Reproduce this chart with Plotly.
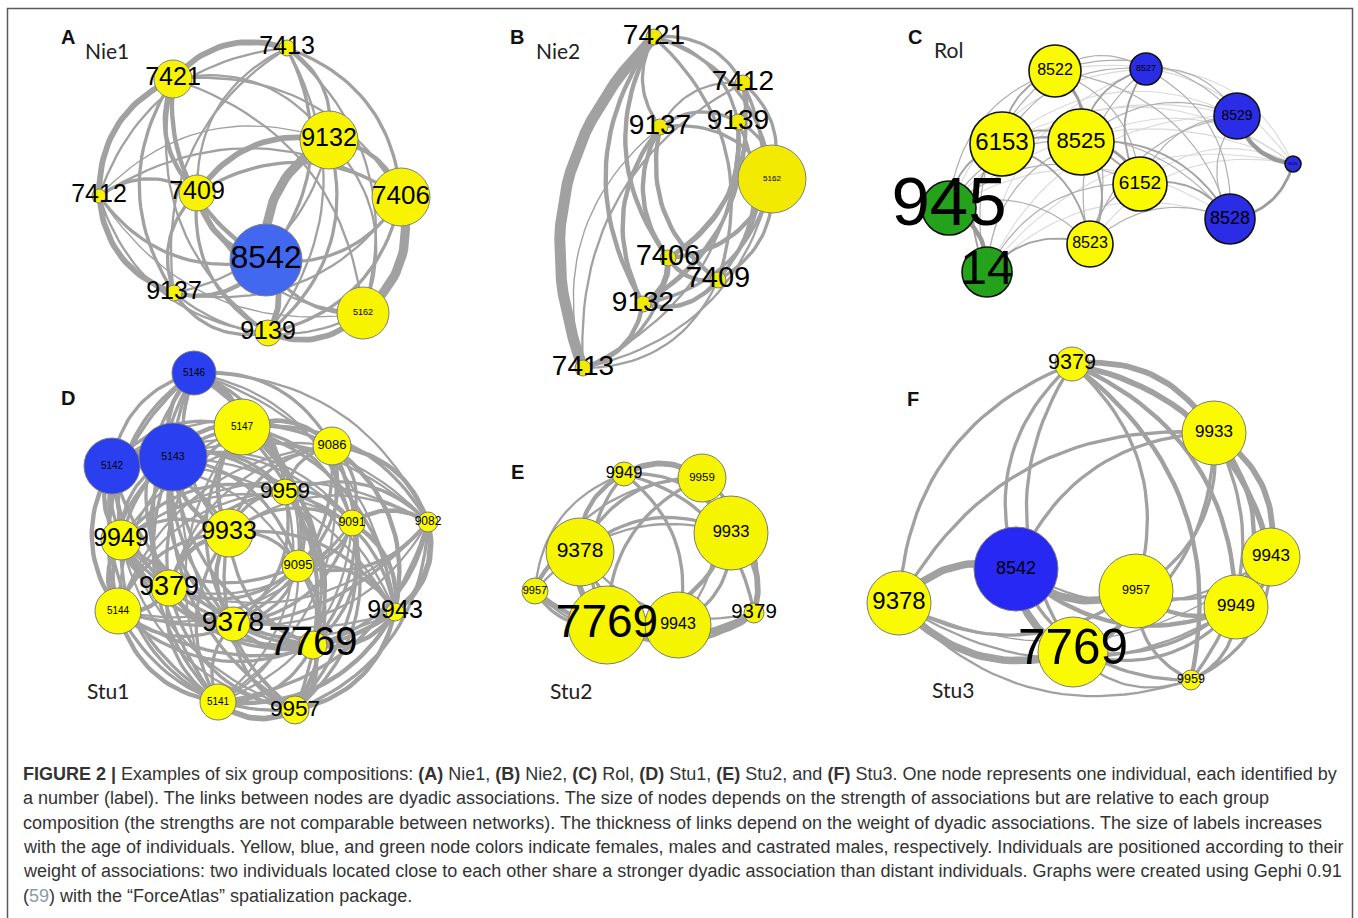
import numpy as np
import plotly.graph_objects as go

W, H = 1358, 918

# ---------------- Panel A : Nie1 ----------------
A_labels = ["7413", "7421", "9132", "7406", "7412", "7409", "8542", "9137", "5162", "9139"]
A_x = [287, 173, 329, 401, 99, 197, 266, 174, 363, 268]
A_y = [48, 79, 140, 197, 196, 193, 260, 293, 313, 333]
A_r = [8, 19, 29, 29, 7, 18, 36, 8, 26, 13]
A_sex = ["F", "F", "F", "F", "F", "F", "M", "F", "F", "F"]
A_font = [25, 25, 25, 26, 25, 25, 32, 25, 9, 25]
A_edges = [(0, 1, 5), (0, 2, 3), (0, 3, 3), (0, 4, 2), (0, 5, 2), (0, 6, 3), (0, 7, 2), (0, 8, 2), (0, 9, 2),
           (1, 2, 2), (1, 3, 2), (1, 4, 5), (1, 5, 4), (1, 6, 4), (1, 7, 3), (1, 8, 2), (1, 9, 2),
           (2, 3, 4), (2, 4, 1), (2, 5, 5), (2, 6, 7), (2, 7, 2), (2, 8, 2), (2, 9, 3),
           (3, 4, 2), (3, 5, 3), (3, 6, 3), (3, 7, 2), (3, 8, 7), (3, 9, 3),
           (4, 5, 3), (4, 6, 3), (4, 7, 5), (4, 8, 1), (4, 9, 2),
           (5, 6, 5), (5, 7, 3), (5, 8, 2), (5, 9, 3),
           (6, 7, 4), (6, 8, 3), (6, 9, 5), (7, 8, 2), (7, 9, 3), (8, 9, 5)]
A_flip = [(2, 6)]

# ---------------- Panel B : Nie2 ----------------
B_labels = ["7421", "7412", "9137", "9139", "5162", "7406", "7409", "9132", "7413"]
B_x = [654, 743, 660, 738, 772, 668, 718, 643, 583]
B_y = [37, 83, 127, 122, 179, 258, 280, 304, 368]
B_r = [8, 8, 8, 8, 34, 8, 8, 8, 8]
B_sex = ["F"] * 9
B_font = [28, 28, 28, 28, 8, 29, 29, 28, 28]
B_edges = [(0, 1, 3), (0, 2, 3), (0, 3, 3), (0, 4, 3), (0, 5, 4), (0, 6, 3), (0, 7, 4), (0, 8, 8),
           (1, 2, 2), (1, 3, 3), (1, 4, 3), (1, 5, 3), (1, 6, 3), (1, 7, 3), (1, 8, 2),
           (2, 3, 3), (2, 4, 3), (2, 5, 4), (2, 6, 4), (2, 7, 4), (2, 8, 1),
           (3, 4, 3), (3, 5, 4), (3, 6, 3), (3, 7, 3), (3, 8, 2),
           (4, 5, 4), (4, 6, 3), (4, 7, 3), (4, 8, 2),
           (5, 6, 4), (5, 7, 5), (5, 8, 3), (6, 7, 4), (6, 8, 2), (7, 8, 4)]
B_flip = []

# ---------------- Panel C : Rol ----------------
C_labels = ["8522", "8527", "8529", "6153", "8525", "8526", "6152", "8528", "945", "14", "8523"]
C_x = [1055, 1146, 1237, 1002, 1081, 1293, 1140, 1230, 949, 987, 1090]
C_y = [71, 69, 116, 144, 142, 164, 184, 219, 208, 272, 244]
C_r = [26, 16, 23, 32, 33, 8, 27, 25, 27, 25, 23]
C_sex = ["F", "M", "M", "F", "F", "M", "F", "M", "C", "C", "F"]
C_font = [16, 9, 14, 24, 22, 4, 19, 18, 69, 48, 16]
C_edges = [(0, 1, 2), (0, 2, 2), (0, 3, 3), (0, 4, 4), (0, 5, 1), (0, 6, 2), (0, 7, 2), (0, 8, 2), (0, 9, 2), (0, 10, 2),
           (1, 2, 2), (1, 3, 2), (1, 4, 3), (1, 5, 1), (1, 6, 3), (1, 7, 2), (1, 8, 1), (1, 9, 1), (1, 10, 2),
           (2, 3, 1), (2, 4, 2), (2, 5, 5), (2, 6, 2), (2, 7, 2), (2, 8, 1), (2, 9, 1), (2, 10, 2),
           (3, 4, 3), (3, 5, 1), (3, 6, 3), (3, 7, 2), (3, 8, 3), (3, 9, 3), (3, 10, 3),
           (4, 5, 1), (4, 6, 4), (4, 7, 3), (4, 8, 2), (4, 9, 2), (4, 10, 3),
           (5, 6, 1), (5, 7, 4), (5, 8, 1), (5, 9, 1), (5, 10, 1),
           (6, 7, 3), (6, 8, 2), (6, 9, 2), (6, 10, 2),
           (7, 8, 1), (7, 9, 1), (7, 10, 2), (8, 9, 5), (8, 10, 2), (9, 10, 3)]
C_flip = [(2, 5), (5, 7)]

# ---------------- Panel D : Stu1 ----------------
D_labels = ["5146", "5147", "5142", "5143", "9086", "9959", "9091", "9082", "9949", "9933",
            "9095", "9379", "5144", "9943", "9378", "7769", "5141", "9957"]
D_x = [194, 242, 112, 173, 332, 285, 352, 428, 121, 229, 298, 169, 118, 395, 233, 313, 218, 295]
D_y = [373, 427, 466, 457, 446, 492, 523, 522, 540, 533, 566, 588, 611, 612, 624, 645, 702, 710]
D_r = [22, 28, 28, 34, 19, 13, 13, 10, 20, 24, 16, 18, 23, 9, 17, 14, 18, 14]
D_sex = ["M", "F", "M", "M"] + ["F"] * 14
D_font = [10, 10, 10, 10.5, 13, 22.5, 12, 12, 25, 25, 13, 27, 10, 25, 28, 40, 10, 22.5]
# upper-triangle link weights (row i -> nodes i+1 ...)
D_rows = ["43433223323323332", "3443333433233323", "523224323423332", "33223433323333",
          "3342332243323", "333333233323", "42332243323", "2232352333", "334423332",
          "34334333", "3233323", "424333", "33343", "3444", "433", "34", "5"]
D_flip = []

# ---------------- Panel E : Stu2 ----------------
E_labels = ["9949", "9959", "9933", "9378", "9957", "7769", "9943", "9379"]
E_x = [624, 702, 731, 580, 535, 607, 678, 754]
E_y = [474, 478, 533, 552, 591, 625, 625, 613]
E_r = [12, 24, 37, 34, 13, 39, 33, 10]
E_sex = ["F"] * 8
E_font = [16.5, 11.5, 16.5, 21, 11, 46, 16, 20.5]
E_edges = [(0, 1, 5), (0, 2, 3), (0, 3, 4), (0, 4, 2), (0, 5, 3), (0, 6, 3), (0, 7, 3),
           (1, 2, 3), (1, 3, 3), (1, 4, 2), (1, 5, 3), (1, 6, 2), (1, 7, 3),
           (2, 3, 3), (2, 4, 2), (2, 5, 4), (2, 6, 3), (2, 7, 5),
           (3, 4, 4), (3, 5, 5), (3, 6, 3), (3, 7, 2),
           (4, 5, 3), (4, 6, 2), (4, 7, 4), (5, 6, 4), (5, 7, 3), (6, 7, 5)]
E_flip = []

# ---------------- Panel F : Stu3 ----------------
F_labels = ["9379", "9933", "8542", "9943", "9378", "9957", "9949", "7769", "9959"]
F_x = [1072, 1214, 1016, 1271, 899, 1136, 1236, 1073, 1191]
F_y = [364, 433, 569, 557, 603, 591, 607, 652, 680]
F_r = [17, 32, 42, 29, 32, 37, 32, 35, 10]
F_sex = ["F", "F", "M", "F", "F", "F", "F", "F", "F"]
F_font = [21.5, 17, 18, 17, 24, 12.5, 17, 49.5, 12.5]
F_edges = [(0, 1, 5), (0, 2, 3), (0, 3, 5), (0, 4, 3), (0, 5, 3), (0, 6, 4), (0, 7, 3), (0, 8, 4),
           (1, 2, 3), (1, 3, 5), (1, 4, 3), (1, 5, 3), (1, 6, 4), (1, 7, 3), (1, 8, 3),
           (2, 3, 2), (2, 4, 6), (2, 5, 6), (2, 6, 4), (2, 7, 6), (2, 8, 3),
           (3, 4, 1), (3, 5, 3), (3, 6, 3), (3, 7, 3), (3, 8, 3),
           (4, 5, 3), (4, 6, 2), (4, 7, 6), (4, 8, 2),
           (5, 6, 4), (5, 7, 4), (5, 8, 3), (6, 7, 3), (6, 8, 3), (7, 8, 2)]
F_flip = []

# panel headers
P_letters = ["A", "B", "C", "D", "E", "F"]
P_letter_xy = [(68, 37), (517, 37), (915, 37), (68, 398), (517, 472), (913, 399)]
P_names = ["Nie1", "Nie2", "Rol", "Stu1", "Stu2", "Stu3"]
P_name_xy = [(107, 50), (558, 50), (948, 49), (108, 690), (571, 690), (953, 689)]

CAPTION = [
    "<b>FIGURE 2 |</b> Examples of six group compositions: <b>(A)</b> Nie1, <b>(B)</b> Nie2, <b>(C)</b> Rol, "
    "<b>(D)</b> Stu1, <b>(E)</b> Stu2, and <b>(F)</b> Stu3. One node represents one individual, each identified by",
    "a number (label). The links between nodes are dyadic associations. The size of nodes depends on the strength "
    "of associations but are relative to each group",
    "composition (the strengths are not comparable between networks). The thickness of links depend on the weight "
    "of dyadic associations. The size of labels increases",
    "with the age of individuals. Yellow, blue, and green node colors indicate females, males and castrated males, "
    "respectively. Individuals are positioned according to their",
    "weight of associations: two individuals located close to each other share a stronger dyadic association than "
    "distant individuals. Graphs were created using Gephi 0.91",
    "(<span style='color:#8a9bb0'>59</span>) with the “ForceAtlas” spatialization package.",
]

# ---------------- styling ----------------
WMAP = {1: 1.4, 2: 2.3, 3: 3.3, 4: 4.4, 5: 5.8, 6: 7.6, 7: 9.2, 8: 11.0}
C_STYLE = {1: ("#dadada", 1.1), 2: ("#b0b0b0", 1.2), 3: ("#a2a2a2", 1.9), 4: ("#9c9c9c", 2.8), 5: ("#999999", 4.4)}
EDGE_GREY = "#a1a1a1"

panels = [
    dict(lab=A_labels, x=A_x, y=A_y, r=A_r, sex=A_sex, font=A_font, edges=A_edges, flip=A_flip,
         mode="out", blue="#4268f0", yellow="#f8f400", outline="#808080", ow=1.0),
    dict(lab=B_labels, x=B_x, y=B_y, r=B_r, sex=B_sex, font=B_font, edges=B_edges, flip=B_flip,
         mode="out", blue="#3040f0", yellow="#f2ea00", outline="#808080", ow=1.0),
    dict(lab=C_labels, x=C_x, y=C_y, r=C_r, sex=C_sex, font=C_font, edges=C_edges, flip=C_flip,
         mode="north", blue="#2b2de6", yellow="#fafa00", outline="#111111", ow=1.6),
    dict(lab=D_labels, x=D_x, y=D_y, r=D_r, sex=D_sex, font=D_font, edges=None, flip=D_flip,
         mode="out", blue="#2a40f0", yellow="#fafa00", outline="#7a7a7a", ow=1.0),
    dict(lab=E_labels, x=E_x, y=E_y, r=E_r, sex=E_sex, font=E_font, edges=E_edges, flip=E_flip,
         mode="out", blue="#2a40f0", yellow="#f5f500", outline="#7a7a7a", ow=1.0),
    dict(lab=F_labels, x=F_x, y=F_y, r=F_r, sex=F_sex, font=F_font, edges=F_edges, flip=F_flip,
         mode="out", blue="#2828f5", yellow="#fafa00", outline="#7a7a7a", ow=1.0),
]

# D edges from its weight matrix rows
D_edges = []
for i, row in enumerate(D_rows):
    for k, ch in enumerate(row):
        if int(ch):
            D_edges.append((i, i + 1 + k, int(ch)))
panels[3]["edges"] = D_edges

GREEN = "#24a21c"
t = np.linspace(0, 1, 26)

fig = go.Figure()
node_traces = []
text_traces = []
for pi, P in enumerate(panels):
    xs = np.array(P["x"], float)
    ys = np.array(P["y"], float)
    cx, cy = xs.mean(), ys.mean()
    groups = {}
    for (a, b, w) in P["edges"]:
        ax_, ay_, bx_, by_ = xs[a], ys[a], xs[b], ys[b]
        dx, dy = bx_ - ax_, by_ - ay_
        L = np.hypot(dx, dy)
        nx_, ny_ = -dy / L, dx / L
        mx, my = (ax_ + bx_) / 2, (ay_ + by_) / 2
        if P["mode"] == "out":
            if nx_ * (mx - cx) + ny_ * (my - cy) < 0:
                nx_, ny_ = -nx_, -ny_
        else:
            if ny_ > 0:
                nx_, ny_ = -nx_, -ny_
        if (a, b) in P["flip"]:
            nx_, ny_ = -nx_, -ny_
        qx, qy = mx + nx_ * 0.32 * L, my + ny_ * 0.32 * L
        px = (1 - t) ** 2 * ax_ + 2 * (1 - t) * t * qx + t ** 2 * bx_
        py = (1 - t) ** 2 * ay_ + 2 * (1 - t) * t * qy + t ** 2 * by_
        if pi == 2:
            key = C_STYLE[w]
        else:
            key = (EDGE_GREY, WMAP[w])
        g = groups.setdefault(key, ([], []))
        g[0].extend(list(px) + [None])
        g[1].extend(list(py) + [None])
    for (col, wid), (gx, gy) in sorted(groups.items(), key=lambda kv: kv[0][1]):
        fig.add_trace(go.Scatter(x=gx, y=gy, mode="lines", line=dict(color=col, width=wid),
                                 hoverinfo="skip", showlegend=False))
    cols = [P["blue"] if s == "M" else GREEN if s == "C" else P["yellow"] for s in P["sex"]]
    node_traces.append(go.Scatter(
        x=P["x"], y=P["y"], mode="markers",
        marker=dict(size=[2 * r for r in P["r"]], color=cols,
                    line=dict(color=P["outline"], width=P["ow"]), opacity=1),
        hoverinfo="skip", showlegend=False))
    text_traces.append(go.Scatter(
        x=P["x"], y=P["y"], mode="text", text=P["lab"], textposition="middle center",
        textfont=dict(family="Liberation Sans, Arial, sans-serif", size=P["font"], color="#000000"),
        hoverinfo="skip", showlegend=False))

for tr in node_traces:
    fig.add_trace(tr)
for tr in text_traces:
    fig.add_trace(tr)

ann = []
for L_, (lx, ly) in zip(P_letters, P_letter_xy):
    ann.append(dict(x=lx, y=ly, text=f"<b>{L_}</b>", showarrow=False, xref="x", yref="y",
                    font=dict(family="Liberation Sans, Arial", size=20, color="#111")))
for N_, (nx0, ny0) in zip(P_names, P_name_xy):
    ann.append(dict(x=nx0, y=ny0, text=N_, showarrow=False, xref="x", yref="y",
                    font=dict(family="Lato, Open Sans, sans-serif", size=21, color="#222")))
cap_y0, cap_dy = 774, 24.3
for k, line in enumerate(CAPTION):
    ann.append(dict(x=21, y=cap_y0 + k * cap_dy, text=line, showarrow=False, xref="x", yref="y",
                    xanchor="left", yanchor="middle",
                    font=dict(family="Liberation Sans, Arial, sans-serif", size=18, color="#333333")))

fig.update_layout(
    width=W, height=H, margin=dict(l=0, r=0, t=0, b=0),
    paper_bgcolor="white", plot_bgcolor="white",
    xaxis=dict(range=[0, W], visible=False, fixedrange=True),
    yaxis=dict(range=[H, 0], visible=False, fixedrange=True),
    annotations=ann,
    shapes=[dict(type="rect", xref="x", yref="y", x0=7.5, y0=8.5, x1=1352.5, y1=H + 20,
                 line=dict(color="#5a5a5a", width=1.5), fillcolor="rgba(0,0,0,0)", layer="above")],
)

fig.write_html("out.html", config={"displayModeBar": False},
               post_script="document.body.style.margin='0px';")
